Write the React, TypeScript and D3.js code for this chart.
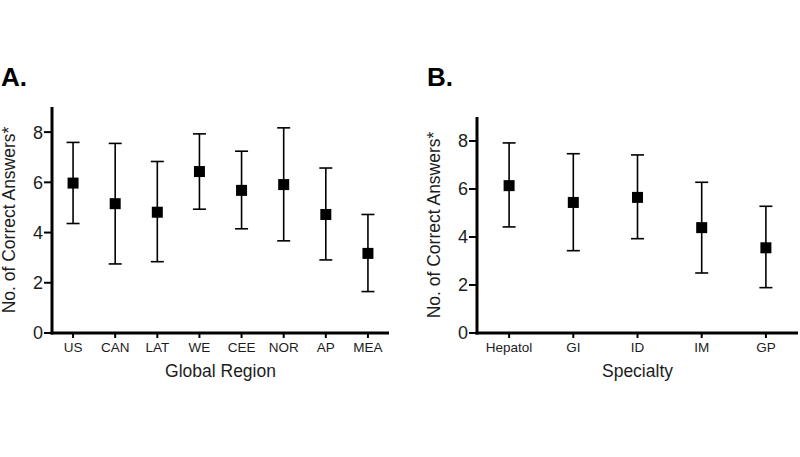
import React from "react";
import * as d3 from "d3";

const regions = ["US", "CAN", "LAT", "WE", "CEE", "NOR", "AP", "MEA"];
const regionMean = [5.97, 5.15, 4.81, 6.43, 5.68, 5.91, 4.72, 3.17];
const regionUpper = [7.59, 7.55, 6.83, 7.93, 7.24, 8.17, 6.57, 4.72];
const regionLower = [4.36, 2.75, 2.84, 4.93, 4.15, 3.67, 2.91, 1.65];

const specialties = ["Hepatol", "GI", "ID", "IM", "GP"];
const specialtyMean = [6.14, 5.44, 5.65, 4.39, 3.55];
const specialtyUpper = [7.92, 7.47, 7.42, 6.28, 5.28];
const specialtyLower = [4.42, 3.43, 3.93, 2.5, 1.89];

const yTicks = [0, 2, 4, 6, 8];
const yMax = 9;
const yTitle = "No. of Correct Answers*";

const FONT = "'Liberation Sans', Arial, Helvetica, sans-serif";
const TEXT = "#1c1c1c";

type PanelProps = {
  left: number;
  right: number;
  top: number;
  bottom: number;
  categories: string[];
  means: number[];
  uppers: number[];
  lowers: number[];
  xTitle: string;
  label: string;
  labelX: number;
  titleX: number;
};

function Panel(p: PanelProps) {
  const x = d3.scalePoint<string>().domain(p.categories).range([p.left, p.right]).padding(0.5);
  const y = d3.scaleLinear().domain([0, yMax]).range([p.bottom, p.top]);
  const mid = (p.top + p.bottom) / 2;
  const cx = (p.left + p.right) / 2;
  const sq = 11;
  const cap = 6.5;
  return (
    <g fontFamily={FONT}>
      <text x={p.labelX} y={86} fontSize={26} fontWeight="bold" fill="#000">
        {p.label}
      </text>
      <text
        transform={`translate(${p.titleX},${mid}) rotate(-90)`}
        textAnchor="middle"
        fontSize={17.5}
        fill={TEXT}
      >
        {yTitle}
      </text>
      {yTicks.map((t) => (
        <g key={t}>
          <line x1={p.left - 8} x2={p.left} y1={y(t)} y2={y(t)} stroke="#000" strokeWidth={2} />
          <text
            x={p.left - 9}
            y={y(t)}
            dy="0.36em"
            textAnchor="end"
            fontSize={18}
            fill={TEXT}
          >
            {t}
          </text>
        </g>
      ))}
      {p.categories.map((c) => (
        <g key={c}>
          <line x1={x(c)} x2={x(c)} y1={p.bottom} y2={p.bottom + 5} stroke="#000" strokeWidth={2} />
          <text x={x(c)} y={352} textAnchor="middle" fontSize={13.5} fill={TEXT}>
            {c}
          </text>
        </g>
      ))}
      <line x1={p.left} x2={p.left} y1={p.top} y2={p.bottom + 1.5} stroke="#000" strokeWidth={3} />
      <line x1={p.left - 1.5} x2={p.right} y1={p.bottom} y2={p.bottom} stroke="#000" strokeWidth={3} />
      <text x={cx} y={377} textAnchor="middle" fontSize={17.5} fill={TEXT}>
        {p.xTitle}
      </text>
      {p.categories.map((c, i) => {
        const px = x(c) as number;
        return (
          <g key={"m" + c}>
            <line x1={px} x2={px} y1={y(p.uppers[i])} y2={y(p.lowers[i])} stroke="#000" strokeWidth={1.6} />
            <line x1={px - cap} x2={px + cap} y1={y(p.uppers[i])} y2={y(p.uppers[i])} stroke="#000" strokeWidth={1.6} />
            <line x1={px - cap} x2={px + cap} y1={y(p.lowers[i])} y2={y(p.lowers[i])} stroke="#000" strokeWidth={1.6} />
            <rect x={px - sq / 2} y={y(p.means[i]) - sq / 2} width={sq} height={sq} fill="#000" />
          </g>
        );
      })}
    </g>
  );
}

export default function App() {
  return (
    <svg
      width={800}
      height={457}
      style={{ position: "absolute", left: 0, top: 0, background: "#fff" }}
    >
      <rect width={800} height={457} fill="#fff" />
      <Panel
        left={52}
        right={389}
        top={107}
        bottom={333}
        categories={regions}
        means={regionMean}
        uppers={regionUpper}
        lowers={regionLower}
        xTitle="Global Region"
        label="A."
        labelX={1}
        titleX={15}
      />
      <Panel
        left={477}
        right={798}
        top={117}
        bottom={333}
        categories={specialties}
        means={specialtyMean}
        uppers={specialtyUpper}
        lowers={specialtyLower}
        xTitle="Specialty"
        label="B."
        labelX={427}
        titleX={440}
      />
    </svg>
  );
}
